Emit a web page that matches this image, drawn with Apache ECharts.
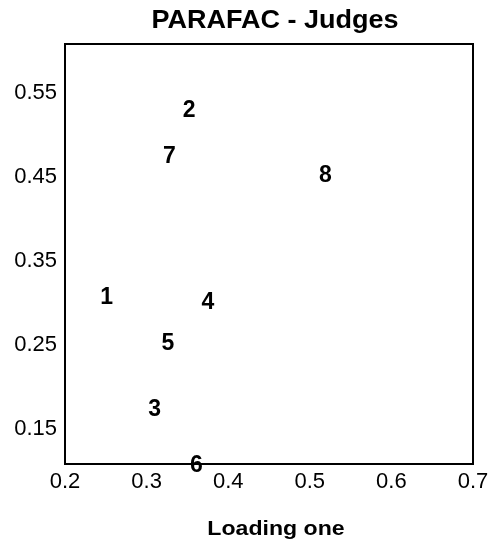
<!DOCTYPE html>
<html>
<head>
<meta charset="utf-8">
<script src="https://cdn.jsdelivr.net/npm/echarts@6/dist/echarts.min.js"></script>
<style>
  html, body { margin: 0; padding: 0; background: #fff; }
  #grafico { width: 499px; height: 547px; }
</style>
</head>
<body>
<div id="grafico"></div>
<script>
// jueces y sus cargas
const jueces = ['1', '2', '3', '4', '5', '6', '7', '8'];
const cargaUno = [0.251, 0.352, 0.310, 0.375, 0.326, 0.361, 0.328, 0.519];
const cargaDos = [0.306, 0.529, 0.172, 0.300, 0.251, 0.106, 0.474, 0.452];
const ticksX = [0.2, 0.3, 0.4, 0.5, 0.6, 0.7];
const ticksY = [0.15, 0.25, 0.35, 0.45, 0.55];

const fuente = 'Liberation Sans, Arial, sans-serif';
const miGrafico = echarts.init(document.getElementById('grafico'));

const opciones = {
  animation: false,
  // titulo y nombre del eje como texto (el original va algo ensanchado)
  graphic: [
    {
      type: 'text', x: 275, y: 21, scaleX: 1.08,
      style: {
        text: 'PARAFAC - Judges', align: 'center', verticalAlign: 'middle',
        font: 'bold 25px ' + fuente, fill: '#000'
      }
    },
    {
      type: 'text', x: 276, y: 529, scaleX: 1.1,
      style: {
        text: 'Loading one', align: 'center', verticalAlign: 'middle',
        font: 'bold 21px ' + fuente, fill: '#000'
      }
    }
  ],
  grid: {
    left: 65, right: 26, top: 44, bottom: 83,
    show: true,
    borderColor: '#000',
    borderWidth: 2
  },
  xAxis: {
    type: 'value',
    min: 0.2, max: 0.7, interval: 0.1,
    axisLine: { show: true, lineStyle: { color: '#000', width: 2 } },
    axisTick: { show: false },
    splitLine: { show: false },
    axisLabel: {
      fontFamily: fuente, fontSize: 22, color: '#000', margin: 7,
      customValues: ticksX,
      formatter: v => String(Math.round(v * 10) / 10)
    }
  },
  yAxis: {
    type: 'value',
    min: 0.1076, max: 0.6085,
    axisLine: { show: true, lineStyle: { color: '#000', width: 2 } },
    axisTick: { show: false },
    splitLine: { show: false },
    axisLabel: {
      fontFamily: fuente, fontSize: 22, color: '#000', margin: 8,
      customValues: ticksY,
      formatter: v => v.toFixed(2)
    }
  },
  series: [{
    type: 'custom',
    clip: false,
    z: 5,
    data: jueces.map((j, i) => [cargaUno[i], cargaDos[i], j]),
    renderItem: (params, api) => {
      const punto = api.coord([api.value(0), api.value(1)]);
      return {
        type: 'text',
        x: punto[0],
        y: punto[1],
        style: {
          text: jueces[params.dataIndex],
          align: 'center',
          verticalAlign: 'middle',
          font: 'bold 23px ' + fuente,
          fill: '#000'
        }
      };
    }
  }]
};

miGrafico.setOption(opciones);
</script>
</body>
</html>
